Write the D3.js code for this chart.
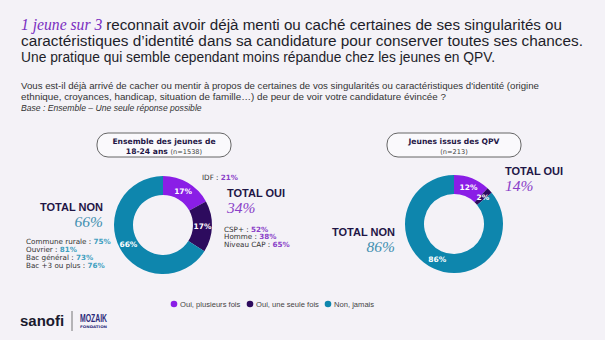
<!DOCTYPE html>
<html>
<head>
<meta charset="utf-8">
<script src="https://cdn.jsdelivr.net/npm/d3@7"></script>
<style>
  body { margin: 0; background: #f4f2f7; }
  svg { display: block; }
  text { font-family: "DejaVu Sans", sans-serif; }
</style>
</head>
<body>
<div id="chart"></div>
<script>
// answers and the share of each per group
var answers = ["Oui, plusieurs fois", "Oui, une seule fois", "Non, jamais"];
var ensembleValues = [17, 17, 66];
var qpvValues = [12, 2, 86];

// sub-group details shown next to the first donut
var idfValue = 21;
var ouiLabels = ["CSP+", "Homme", "Niveau CAP"];
var ouiValues = [52, 38, 65];
var nonLabels = ["Commune rurale", "Ouvrier", "Bac général", "Bac +3 ou plus"];
var nonValues = [75, 81, 73, 76];

var width = 605, height = 340;
var purple = "#8a1ee6", darkPurple = "#2d0b5e", teal = "#0e86ad";
var navy = "#1f1646";

var svg = d3.select("#chart").append("svg")
  .attr("width", width)
  .attr("height", height);

var color = d3.scaleOrdinal().domain(answers).range([purple, darkPurple, teal]);

// title
var title = svg.append("g").attr("font-size", 15.5).attr("fill", "#1e1e2a");

var t1 = title.append("text").attr("x", 21).attr("y", 30)
  .style("font-family", "'Liberation Sans', sans-serif")
  .attr("textLength", 541).attr("lengthAdjust", "spacingAndGlyphs");
t1.append("tspan").text("1 jeune sur 3 ")
  .style("font-family", "'Liberation Serif', serif").attr("font-style", "italic")
  .attr("fill", "#7a2fc0").attr("font-size", 16);
t1.append("tspan").text("reconnait avoir déjà menti ou caché certaines de ses singularités ou");

title.append("text").attr("x", 21).attr("y", 46)
  .style("font-family", "'Liberation Sans', sans-serif")
  .attr("textLength", 562).attr("lengthAdjust", "spacingAndGlyphs")
  .text("caractéristiques d’identité dans sa candidature pour conserver toutes ses chances.");
title.append("text").attr("x", 21).attr("y", 62)
  .style("font-family", "'Liberation Sans', sans-serif")
  .attr("textLength", 474).attr("lengthAdjust", "spacingAndGlyphs")
  .text("Une pratique qui semble cependant moins répandue chez les jeunes en QPV.");

// question
var q = svg.append("g").attr("font-size", 8.6).attr("fill", "#333");
q.append("text").attr("x", 21).attr("y", 89)
  .style("font-family", "'Liberation Sans', sans-serif")
  .attr("textLength", 518).attr("lengthAdjust", "spacingAndGlyphs")
  .text("Vous est-il déjà arrivé  de cacher ou mentir  à propos de certaines de vos singularités  ou caractéristiques d'identité (origine");
q.append("text").attr("x", 21).attr("y", 100)
  .style("font-family", "'Liberation Sans', sans-serif")
  .attr("textLength", 425).attr("lengthAdjust", "spacingAndGlyphs")
  .text("ethnique, croyances, handicap, situation de famille…)  de peur de voir votre candidature évincée ?");
q.append("text").attr("x", 21).attr("y", 111)
  .style("font-family", "'Liberation Sans', sans-serif")
  .attr("font-style", "italic")
  .text("Base : Ensemble  – Une seule réponse possible");

// donuts
var pie = d3.pie().sort(null).value(function(d) { return d.value; });
var arc = d3.arc().innerRadius(30).outerRadius(49);
var labelArc = d3.arc().innerRadius(39.5).outerRadius(39.5);

function drawDonut(cx, cy, values) {
  var data = answers.map(function(a, i) { return { answer: a, value: values[i] }; });
  var g = svg.append("g").attr("transform", "translate(" + cx + "," + cy + ")");
  var arcs = pie(data);
  g.selectAll("path").data(arcs).enter().append("path")
    .attr("d", arc)
    .attr("fill", function(d) { return color(d.data.answer); });
  g.selectAll("text").data(arcs).enter().append("text")
    .attr("transform", function(d) { return "translate(" + labelArc.centroid(d) + ")"; })
    .attr("text-anchor", "middle")
    .attr("dy", "0.35em")
    .attr("font-size", 7.5)
    .attr("font-weight", "bold")
    .attr("fill", "#fff")
    .text(function(d) { return d.data.value + "%"; });
}

drawDonut(163, 225, ensembleValues);
drawDonut(454, 224, qpvValues);

// group headers
function header(cx, line1, line2bold, line2) {
  svg.append("rect")
    .attr("x", cx - 67).attr("y", 133).attr("width", 134).attr("height", 24)
    .attr("rx", 11).attr("fill", "#faf9fc").attr("stroke", "#555").attr("stroke-width", 0.9);
  svg.append("text").attr("x", cx).attr("y", 143.5).attr("text-anchor", "middle")
    .attr("font-size", 7.6).attr("font-weight", "bold").attr("fill", navy).text(line1);
  var t = svg.append("text").attr("x", cx).attr("y", 153.5).attr("text-anchor", "middle")
    .attr("font-size", 7.6).attr("fill", navy);
  if (line2bold) t.append("tspan").attr("font-weight", "bold").text(line2bold + " ");
  t.append("tspan").attr("font-size", 6.6).attr("fill", "#444").text(line2);
}
header(164, "Ensemble des jeunes de", "18-24 ans", "(n=1538)");
header(454, "Jeunes issus des QPV", null, "(n=213)");

// totals
function total(x, y, anchor, label, value, fill) {
  svg.append("text").attr("x", x).attr("y", y).attr("text-anchor", anchor)
    .style("font-family", "'Liberation Sans', sans-serif")
    .attr("font-size", 11).attr("font-weight", "bold").attr("fill", navy).text(label);
  svg.append("text").attr("x", x).attr("y", y + 16).attr("text-anchor", anchor)
    .style("font-family", "'Liberation Serif', serif").attr("font-style", "italic")
    .attr("font-size", 15.5).attr("fill", fill).text(value + "%");
}
var ensembleOui = d3.sum(ensembleValues.slice(0, 2));
var qpvOui = d3.sum(qpvValues.slice(0, 2));
total(227, 197, "start", "TOTAL OUI", ensembleOui, "#8a3fc8");
total(103, 211, "end", "TOTAL NON", ensembleValues[2], "#3f8fb0");
total(505, 175, "start", "TOTAL OUI", qpvOui, "#8a3fc8");
total(395, 236, "end", "TOTAL NON", qpvValues[2], "#3f8fb0");

// sub-group details
function detail(x, y, label, value, fill) {
  var t = svg.append("text").attr("x", x).attr("y", y)
    .attr("font-size", 7.2).attr("fill", "#333");
  t.append("tspan").text(label + " : ");
  t.append("tspan").attr("font-weight", "bold").attr("fill", fill).text(value + "%");
}
detail(202, 179.5, "IDF", idfValue, "#8a3fc8");
ouiLabels.forEach(function(l, i) { detail(224, 231.5 + i * 7.6, l, ouiValues[i], "#8a3fc8"); });
nonLabels.forEach(function(l, i) { detail(26, 243.5 + i * 8, l, nonValues[i], "#3f9fc0"); });

// legend
var legendX = [174, 250, 328];
var legend = svg.append("g").selectAll("g").data(answers).enter().append("g")
  .attr("transform", function(d, i) { return "translate(" + legendX[i] + ",304)"; });
legend.append("circle").attr("r", 3.3).attr("fill", function(d) { return color(d); });
legend.append("text").attr("x", 6).attr("dy", "0.35em")
  .style("font-family", "'Liberation Sans', sans-serif")
  .attr("font-size", 7.6).attr("fill", "#444").text(function(d) { return d; });

// logos
svg.append("text").attr("x", 20).attr("y", 326)
  .style("font-family", "'Liberation Sans', sans-serif")
  .attr("font-size", 15).attr("font-weight", "bold").attr("fill", "#1a1a2e").text("sanofi");
svg.append("line").attr("x1", 72).attr("x2", 72).attr("y1", 311).attr("y2", 331)
  .attr("stroke", "#555").attr("stroke-width", 0.8);
svg.append("text").attr("x", 80).attr("y", 322)
  .style("font-family", "'Liberation Sans Narrow', 'Liberation Sans', sans-serif")
  .attr("font-size", 11).attr("font-weight", "bold").attr("fill", "#2b2a7a")
  .attr("textLength", 27).attr("lengthAdjust", "spacingAndGlyphs").text("MOZAIK");
svg.append("text").attr("x", 80).attr("y", 328)
  .attr("font-size", 3.6).attr("font-weight", "bold").attr("fill", "#2b2a7a")
  .attr("textLength", 27).attr("lengthAdjust", "spacingAndGlyphs").text("FONDATION");
</script>
</body>
</html>
